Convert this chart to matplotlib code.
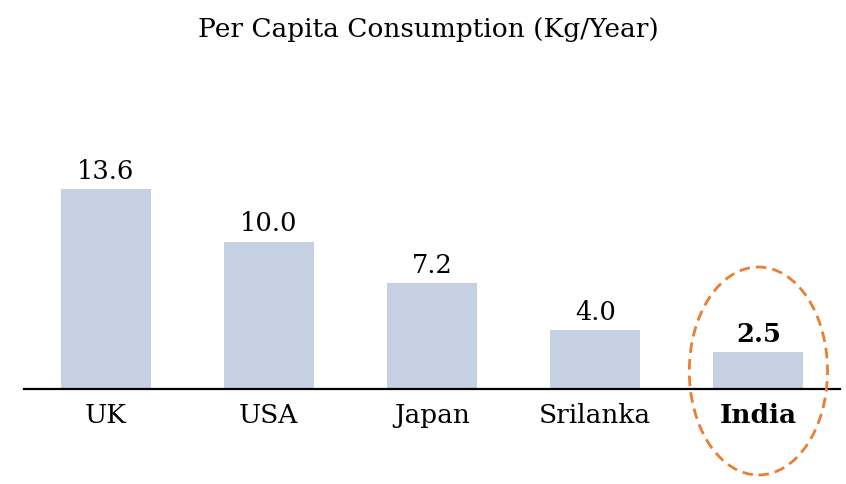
import matplotlib
matplotlib.use("Agg")
import matplotlib.pyplot as plt
from matplotlib.patches import Ellipse

categories = ["UK", "USA", "Japan", "Srilanka", "India"]
values = [13.6, 10.0, 7.2, 4.0, 2.5]
value_labels = ["13.6", "10.0", "7.2", "4.0", "2.5"]
title = "Per Capita Consumption (Kg/Year)"
highlight = "India"

FONT = "DejaVu Serif"
W, H = 846, 484
fig = plt.figure(figsize=(W / 100, H / 100), dpi=100)
base_px = 389
ymax = 18
px_per_unit = 14.7
ax_h = ymax * px_per_unit
ax = fig.add_axes([24 / W, (H - base_px) / H, 816 / W, ax_h / H])

x = list(range(len(categories)))
ax.bar(x, values, width=0.552, color="#C5D0E2", zorder=2)
ax.set_xlim(-0.5, len(categories) - 0.5)
ax.set_ylim(0, ymax)

for s in ["top", "right", "left"]:
    ax.spines[s].set_visible(False)
ax.spines["bottom"].set_linewidth(1.6)
ax.spines["bottom"].set_color("black")
ax.set_yticks([])
ax.set_xticks(x)
ax.set_xticklabels(categories, fontfamily=FONT, fontsize=19)
ax.tick_params(axis="x", length=0, pad=10)
for lbl in ax.get_xticklabels():
    if lbl.get_text() == highlight:
        lbl.set_fontweight("bold")

for xi, v, lab, cat in zip(x, values, value_labels, categories):
    ax.annotate(lab, (xi, v), xytext=(0, 4), textcoords="offset points",
                ha="center", va="bottom", fontfamily=FONT, fontsize=18.5,
                fontweight="bold" if cat == highlight else "normal")

hi = categories.index(highlight)
ell = Ellipse((hi, 18 / px_per_unit), width=0.847, height=208 / px_per_unit,
              fill=False, edgecolor="#ED7D31", linestyle=(0, (3.8, 2.2)),
              linewidth=2, clip_on=False, zorder=3)
ax.add_patch(ell)

fig.text(428 / W, 1 - 30 / H, title, ha="center", va="center",
         fontfamily=FONT, fontsize=19)

fig.savefig("out.png", dpi=100)
